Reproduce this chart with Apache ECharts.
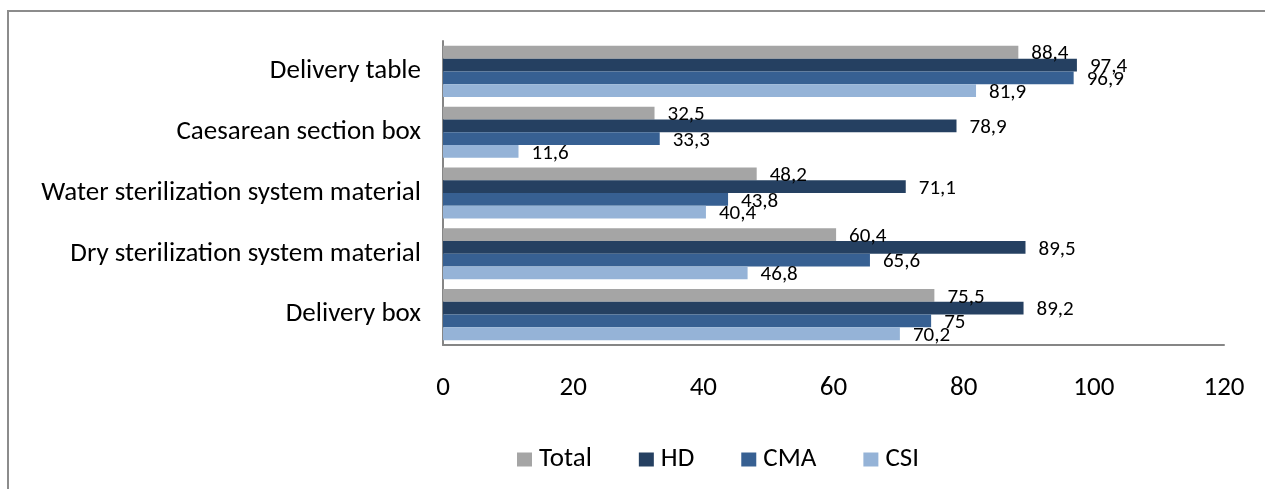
<!DOCTYPE html>
<html>
<head>
<meta charset="utf-8">
<script src="https://cdn.jsdelivr.net/npm/echarts@6/dist/echarts.min.js"></script>
<style>
html, body { margin: 0; padding: 0; background: #fff; }
#myChart { width: 1265px; height: 489px; }
</style>
</head>
<body>
<div id="myChart"></div>
<script>
// categories, top to bottom
const categories = [
  'Delivery table',
  'Caesarean section box',
  'Water sterilization system material',
  'Dry sterilization system material',
  'Delivery box'
]
const seriesNames = ['Total', 'HD', 'CMA', 'CSI']
const total = [88.4, 32.5, 48.2, 60.4, 75.5]
const hd = [97.4, 78.9, 71.1, 89.5, 89.2]
const cma = [96.9, 33.3, 43.8, 65.6, 75]
const csi = [81.9, 11.6, 40.4, 46.8, 70.2]
const xTicks = [0, 20, 40, 60, 80, 100, 120]

const colors = ['#a5a5a5', '#254061', '#376092', '#95b3d7']
const font = 'Carlito, "Open Sans", "Noto Sans", sans-serif'

let myChart = echarts.init(document.getElementById('myChart'))

function makeSeries(name, data, color) {
  return {
    name: name,
    type: 'bar',
    data: data,
    barGap: '0%',
    barCategoryGap: '16%',
    itemStyle: { color: color },
    label: {
      show: true,
      position: 'right',
      distance: 13,
      offset: [0, 2],
      color: '#000',
      fontFamily: font,
      fontSize: 21,
      formatter: p => String(p.value).replace('.', ',')
    }
  }
}

myChart.setOption({
  animation: false,
  textStyle: { fontFamily: font },
  color: colors,
  graphic: [
    {
      type: 'rect',
      shape: { x: 8, y: 11, width: 1400, height: 600 },
      style: { fill: 'none', stroke: '#8c8c8c', lineWidth: 2 },
      silent: true
    }
  ],
  grid: { left: 443, right: 41, top: 41, height: 304 },
  legend: {
    data: seriesNames,
    left: 517,
    top: 446,
    padding: 0,
    itemWidth: 15,
    itemHeight: 14,
    itemGap: 47,
    icon: 'rect',
    textStyle: { fontFamily: font, fontSize: 27, color: '#000', padding: [0, 0, 0, 2] }
  },
  xAxis: {
    type: 'value',
    min: 0,
    max: 120,
    interval: 20,
    axisLine: { show: true, lineStyle: { color: '#868686', width: 2 } },
    axisTick: { show: false },
    splitLine: { show: false },
    axisLabel: {
      margin: 30,
      color: '#000',
      fontFamily: font,
      fontSize: 27,
      formatter: v => (xTicks.indexOf(v) >= 0 ? String(v) : '')
    }
  },
  yAxis: {
    type: 'category',
    inverse: true,
    data: categories,
    axisLine: { show: true, lineStyle: { color: '#868686', width: 2 } },
    axisTick: { show: false },
    axisLabel: {
      margin: 22,
      color: '#000',
      fontFamily: font,
      fontSize: 27
    }
  },
  series: [
    makeSeries('Total', total, colors[0]),
    makeSeries('HD', hd, colors[1]),
    makeSeries('CMA', cma, colors[2]),
    makeSeries('CSI', csi, colors[3])
  ]
})
</script>
</body>
</html>
